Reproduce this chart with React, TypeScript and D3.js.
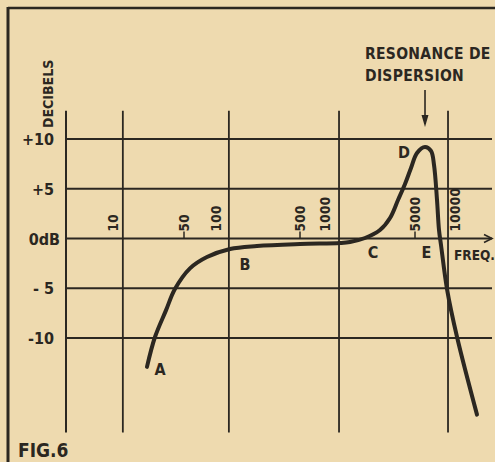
import React from 'react'
import * as d3 from 'd3'

// frequency axis (hand drawn, so the log scale is piecewise)
const freqBreaks = [10, 50, 100, 500, 1000, 5000, 10000]
const freqPixels = [113, 184, 216, 300, 325, 415, 455]
const freqLabels = ['10', '50', '100', '500', '1000', '5000', '10000']
const freqTicks = [50, 500, 5000]
const gridFreqs = [12.5, 128, 1285, 8860]

const dbTicks = [10, 5, 0, -5, -10]
const dbLabels = ['+10', '+5', '0dB', '- 5', '-10']

// response curve: Hz, dB
const curveFreq = [21.6, 25.9, 33.3, 40.7, 56.9, 82.2, 130.8, 219, 500, 1308, 1563, 2046, 2673, 3199, 3690, 4182, 4656, 5177, 5947, 6598, 6950, 7322, 7579, 7847, 8708, 10360, 14640]
const curveDb = [-12.9, -9.9, -7.2, -5.08, -3.0, -1.86, -1.05, -0.75, -0.55, -0.45, -0.35, 0.05, 0.85, 2.06, 3.87, 5.48, 7.09, 8.6, 9.2, 8.8, 7.4, 3.87, 0.85, -0.65, -5.08, -9.9, -17.7]

const pointNames = ['A', 'B', 'C', 'D', 'E']
const pointFreq = [29, 174, 2360, 4107, 6100]
const pointDb = [-13.7, -3.17, -1.96, 8.09, -1.96]

const INK = '#2b2721'
const PAPER = '#eedaaf'
const FONT = '"DejaVu Sans Condensed", "DejaVu Sans", sans-serif'

const App = () => {
  const W = 495
  const H = 462
  const x = d3.scaleLog().domain(freqBreaks).range(freqPixels)
  const y = d3.scaleLinear().domain([-10, 10]).range([338, 139])
  const left = 66
  const right = 492
  const top = y(12.85)
  const bottom = y(-19.5)

  const line = d3.line<number>()
    .x((_, i) => x(curveFreq[i]))
    .y(d => y(d))
    .curve(d3.curveCatmullRom.alpha(0.5))

  const arrowX = x(5947)

  return (
    <svg width={W} height={H} style={{ position: 'fixed', left: 0, top: 0, background: PAPER }}
      fontFamily={FONT} fontWeight="bold" fill={INK}>
      <rect x={0} y={0} width={W} height={H} fill={PAPER} />
      {/* page frame */}
      <line x1={8} x2={W} y1={8} y2={8} stroke={INK} strokeWidth={2.5} />
      <line x1={8} x2={8} y1={7} y2={H} stroke={INK} strokeWidth={3} />

      {/* horizontal grid */}
      {dbTicks.map(d => (
        <line key={'h' + d} x1={left} x2={right} y1={y(d)} y2={y(d)} stroke={INK} strokeWidth={1.8} />
      ))}
      <path d={`M${right - 8},${y(0) - 4} L${right},${y(0)} L${right - 8},${y(0) + 4}`} fill="none" stroke={INK} strokeWidth={1.6} />

      {/* vertical grid */}
      <line x1={left} x2={left} y1={top} y2={bottom} stroke={INK} strokeWidth={2} />
      {gridFreqs.map(f => (
        <line key={'v' + f} x1={x(f)} x2={x(f)} y1={top} y2={bottom} stroke={INK} strokeWidth={1.8} />
      ))}

      {/* frequency ticks and labels */}
      {freqTicks.map(f => (
        <line key={'t' + f} x1={x(f)} x2={x(f)} y1={y(0)} y2={y(0) - 7} stroke={INK} strokeWidth={1.5} />
      ))}
      {freqBreaks.map((f, i) => (
        <text key={'f' + f} transform={`translate(${x(f) + 5},${y(0) - 7}) rotate(-90)`}
          fontSize={13.5} letterSpacing={0.3}>{freqLabels[i]}</text>
      ))}

      {/* dB labels */}
      {dbTicks.map((d, i) => (
        <text key={'l' + d} x={i === 2 ? 60 : 54} y={y(d) + 6} textAnchor="end" fontSize={16}>{dbLabels[i]}</text>
      ))}
      <text transform={`translate(53,128) rotate(-90)`} fontSize={14}>DECIBELS</text>

      {/* response curve */}
      <path d={line(curveDb) || ''} fill="none" stroke={INK} strokeWidth={4} strokeLinecap="round" />

      {pointNames.map((n, i) => (
        <text key={n} x={x(pointFreq[i])} y={y(pointDb[i])} textAnchor="middle" fontSize={16}>{n}</text>
      ))}
      <text x={454} y={260} fontSize={13.5}>FREQ.</text>

      <text x={365} y={59} fontSize={15.5} letterSpacing={0.3}>RESONANCE DE</text>
      <text x={365} y={81} fontSize={15.5} letterSpacing={0.3}>DISPERSION</text>
      <line x1={arrowX} x2={arrowX} y1={90} y2={124} stroke={INK} strokeWidth={1.6} />
      <path d={`M${arrowX - 3.5},${115} L${arrowX},${127} L${arrowX + 3.5},${115} Z`} />

      <text x={18} y={457} fontSize={19}>FIG.6</text>
    </svg>
  )
}

export default App
